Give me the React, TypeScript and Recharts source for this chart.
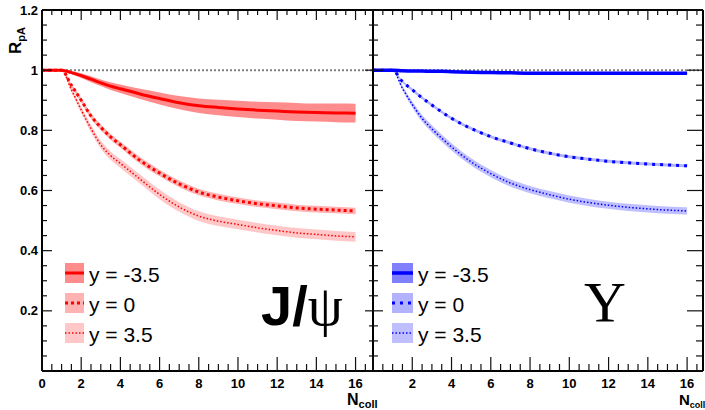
import React from 'react';
import { ComposedChart, Line, Area, XAxis, YAxis, ReferenceLine } from 'recharts';

const FONT = "'Liberation Sans', Arial, Helvetica, sans-serif";
const SERIF = "'Liberation Serif', 'DejaVu Serif', serif";

// N_coll sample points
const nColl = [0, 0.5, 1, 1.5, 2, 2.5, 3, 3.5, 4, 5, 6, 7, 8, 9, 10, 11, 12, 13, 14, 15, 16];

// J/psi R_pA
const jpsiBackward = [1, 1, 1, 0.992, 0.982, 0.970, 0.958, 0.947, 0.938, 0.921, 0.906, 0.892, 0.882, 0.876, 0.871, 0.867, 0.864, 0.861, 0.859, 0.858, 0.857];
const jpsiBackwardErr = [0, 0, 0.003, 0.005, 0.008, 0.010, 0.011, 0.013, 0.014, 0.017, 0.020, 0.022, 0.024, 0.026, 0.027, 0.028, 0.029, 0.030, 0.030, 0.031, 0.031];
const jpsiMid = [1, 1, 1, 0.950, 0.900, 0.848, 0.810, 0.778, 0.752, 0.700, 0.658, 0.622, 0.595, 0.578, 0.566, 0.556, 0.549, 0.542, 0.538, 0.535, 0.532];
const jpsiMidErr = [0, 0, 0.002, 0.006, 0.008, 0.009, 0.010, 0.010, 0.010, 0.011, 0.011, 0.011, 0.011, 0.011, 0.011, 0.011, 0.011, 0.011, 0.011, 0.011, 0.011];
const jpsiForward = [1, 1, 1, 0.935, 0.868, 0.806, 0.752, 0.716, 0.690, 0.638, 0.587, 0.545, 0.515, 0.498, 0.487, 0.476, 0.467, 0.459, 0.454, 0.449, 0.446];
const jpsiForwardErr = [0, 0, 0.003, 0.008, 0.010, 0.012, 0.013, 0.014, 0.015, 0.015, 0.016, 0.016, 0.016, 0.016, 0.016, 0.016, 0.016, 0.016, 0.016, 0.016, 0.016];

// Upsilon R_pA
const upsBackward = [1, 1, 1, 0.998, 0.997, 0.997, 0.996, 0.996, 0.995, 0.993, 0.992, 0.991, 0.990, 0.990, 0.990, 0.990, 0.990, 0.990, 0.990, 0.990, 0.990];
const upsBackwardErr = [0, 0, 0.001, 0.001, 0.001, 0.001, 0.001, 0.001, 0.001, 0.002, 0.002, 0.002, 0.002, 0.002, 0.002, 0.002, 0.002, 0.002, 0.002, 0.002, 0.002];
const upsMid = [1, 1, 1, 0.962, 0.935, 0.908, 0.884, 0.861, 0.840, 0.806, 0.779, 0.758, 0.739, 0.724, 0.712, 0.704, 0.697, 0.692, 0.688, 0.685, 0.682];
const upsMidErr = [0, 0, 0.002, 0.004, 0.005, 0.005, 0.005, 0.005, 0.005, 0.005, 0.005, 0.005, 0.005, 0.005, 0.005, 0.005, 0.005, 0.005, 0.005, 0.005, 0.005];
const upsForward = [1, 1, 1, 0.940, 0.886, 0.840, 0.805, 0.774, 0.745, 0.695, 0.656, 0.625, 0.603, 0.586, 0.571, 0.560, 0.551, 0.544, 0.539, 0.535, 0.532];
const upsForwardErr = [0, 0, 0.003, 0.007, 0.010, 0.011, 0.012, 0.012, 0.012, 0.012, 0.012, 0.012, 0.012, 0.012, 0.012, 0.012, 0.012, 0.012, 0.012, 0.012, 0.012];

// ticks
const xTickValues = [0, 0.5, 1, 1.5, 2, 2.5, 3, 3.5, 4, 4.5, 5, 5.5, 6, 6.5, 7, 7.5, 8, 8.5, 9, 9.5, 10, 10.5, 11, 11.5, 12, 12.5, 13, 13.5, 14, 14.5, 15, 15.5, 16, 16.5];
const xMajorLabels = [0, 2, 4, 6, 8, 10, 12, 14, 16];
const yTickValues = [0, 0.05, 0.1, 0.15, 0.2, 0.25, 0.3, 0.35, 0.4, 0.45, 0.5, 0.55, 0.6, 0.65, 0.7, 0.75, 0.8, 0.85, 0.9, 0.95, 1, 1.05, 1.1, 1.15, 1.2];
const yMajorLabels = ['0.2', '0.4', '0.6', '0.8', '1', '1.2'];

const legendLabels = ['y = -3.5', 'y = 0', 'y = 3.5'];

function buildRows(b: number[], be: number[], m: number[], me: number[], f: number[], fe: number[]) {
  return nColl.map((x, i) => ({
    x,
    back: b[i],
    backBand: [b[i] - be[i], b[i] + be[i]],
    mid: m[i],
    midBand: [m[i] - me[i], m[i] + me[i]],
    fwd: f[i],
    fwdBand: [f[i] - fe[i], f[i] + fe[i]],
  }));
}

const jpsiRows = buildRows(jpsiBackward, jpsiBackwardErr, jpsiMid, jpsiMidErr, jpsiForward, jpsiForwardErr);
const upsRows = buildRows(upsBackward, upsBackwardErr, upsMid, upsMidErr, upsForward, upsForwardErr);

type Style = {
  color: string;
  bandOp: [number, number, number];
  width: [number, number, number];
  dash: [string | undefined, string | undefined, string | undefined];
};

const redStyle: Style = {
  color: '#ff0000',
  bandOp: [0.45, 0.3, 0.22],
  width: [3, 3, 1.5],
  dash: [undefined, '3 3', '1.5 2'],
};
const blueStyle: Style = {
  color: '#0000ff',
  bandOp: [0.5, 0.3, 0.25],
  width: [3.5, 3, 1.5],
  dash: [undefined, '3 5', '1.5 2'],
};

const isMajor = (v: number, step: number) => Math.abs(v / step - Math.round(v / step)) < 1e-6;

type TickCfg = { major: number; minor: number };

function Panel(props: {
  rows: any[];
  style: Style;
  left: number;
  width: number;
  marginLeft: number;
  marginRight: number;
  xMax: number;
  showYLabels: boolean;
  showZero: boolean;
  leftTick: TickCfg;
  rightTick: TickCfg;
  bottomTick: TickCfg;
  topTick: TickCfg;
}) {
  const { rows, style, left, width, marginLeft, marginRight, xMax, showYLabels, showZero } = props;
  const axisLine = { stroke: '#000', strokeWidth: 2 };

  const bottomTick = (p: any) => {
    const v = p.payload.value;
    const major = isMajor(v, 2);
    const len = major ? props.bottomTick.major : props.bottomTick.minor;
    const showLabel = major && xMajorLabels.indexOf(Math.round(v)) >= 0 && (showZero || v !== 0);
    return (
      <g>
        <line x1={p.x} x2={p.x} y1={p.y} y2={p.y - len} stroke="#111" strokeWidth={1.2} />
        {showLabel && (
          <text x={p.x} y={p.y + 17} textAnchor="middle" fontSize={13} fontWeight="bold" fontFamily={FONT} fill="#000">
            {Math.round(v)}
          </text>
        )}
      </g>
    );
  };
  const topTick = (p: any) => {
    const v = p.payload.value;
    const len = isMajor(v, 2) ? props.topTick.major : props.topTick.minor;
    return <line x1={p.x} x2={p.x} y1={p.y} y2={p.y + len} stroke="#111" strokeWidth={1.2} />;
  };
  const leftTick = (p: any) => {
    const v = p.payload.value;
    const major = isMajor(v, 0.2);
    const len = major ? props.leftTick.major : props.leftTick.minor;
    const idx = Math.round(v / 0.2) - 1;
    return (
      <g>
        <line x1={p.x} x2={p.x + len} y1={p.y} y2={p.y} stroke="#111" strokeWidth={1.2} />
        {showYLabels && major && idx >= 0 && (
          <text x={p.x - 4} y={p.y + 4.5} textAnchor="end" fontSize={13} fontWeight="bold" fontFamily={FONT} fill="#000">
            {yMajorLabels[idx]}
          </text>
        )}
      </g>
    );
  };
  const rightTick = (p: any) => {
    const v = p.payload.value;
    const len = isMajor(v, 0.2) ? props.rightTick.major : props.rightTick.minor;
    return <line x1={p.x} x2={p.x - len} y1={p.y} y2={p.y} stroke="#111" strokeWidth={1.2} />;
  };

  const keys: ['back', 'mid', 'fwd'] = ['back', 'mid', 'fwd'];

  return (
    <div style={{ position: 'absolute', left, top: 0 }}>
      <ComposedChart
        width={width}
        height={410}
        data={rows}
        margin={{ top: 9, right: marginRight, bottom: 38, left: marginLeft }}
      >
        <XAxis
          dataKey="x"
          type="number"
          domain={[0, xMax]}
          ticks={xTickValues}
          interval={0}
          height={1}
          tickSize={0}
          tickMargin={0}
          tickLine={false}
          axisLine={axisLine}
          tick={bottomTick}
          allowDataOverflow
        />
        <XAxis
          xAxisId="top"
          orientation="top"
          dataKey="x"
          type="number"
          domain={[0, xMax]}
          ticks={xTickValues}
          interval={0}
          height={1}
          tickSize={0}
          tickMargin={0}
          tickLine={false}
          axisLine={axisLine}
          tick={topTick}
          allowDataOverflow
        />
        <YAxis
          type="number"
          domain={[0, 1.2]}
          ticks={yTickValues}
          interval={0}
          width={1}
          tickSize={0}
          tickMargin={0}
          tickLine={false}
          axisLine={axisLine}
          tick={leftTick}
          allowDataOverflow
        />
        <YAxis
          yAxisId="right"
          orientation="right"
          type="number"
          domain={[0, 1.2]}
          ticks={yTickValues}
          interval={0}
          width={1}
          tickSize={0}
          tickMargin={0}
          tickLine={false}
          axisLine={axisLine}
          tick={rightTick}
          allowDataOverflow
        />
        <ReferenceLine y={1} stroke="#808080" strokeDasharray="2 2" strokeWidth={2} />
        {keys.map((k, i) => (
          <Area
            key={k + 'Band'}
            type="monotone"
            dataKey={k + 'Band'}
            stroke="none"
            fill={style.color}
            fillOpacity={style.bandOp[i]}
            isAnimationActive={false}
            dot={false}
            activeDot={false}
          />
        ))}
        {keys.map((k, i) => (
          <Line
            key={k}
            type="monotone"
            dataKey={k}
            stroke={style.color}
            strokeWidth={style.width[i]}
            strokeDasharray={style.dash[i]}
            dot={false}
            activeDot={false}
            isAnimationActive={false}
          />
        ))}
      </ComposedChart>
    </div>
  );
}

function LegendBlock(props: { x: number; textX: number; w: number; style: Style }) {
  const { x, textX, w, style } = props;
  const centers = [273, 303, 333];
  return (
    <g>
      {centers.map((cy, i) => (
        <g key={i}>
          <rect x={x} y={cy - 10} width={w} height={20} fill={style.color} fillOpacity={style.bandOp[i]} />
          <line
            x1={x}
            x2={x + w}
            y1={cy}
            y2={cy}
            stroke={style.color}
            strokeWidth={style.width[i]}
            strokeDasharray={style.dash[i]}
          />
          <text x={textX} y={cy + 9} fontSize={21} fontFamily={FONT} fill="#000">
            {legendLabels[i]}
          </text>
        </g>
      ))}
    </g>
  );
}

export default function App() {
  return (
    <div style={{ position: 'absolute', left: 0, top: 0, width: 705, height: 410, background: '#fff', overflow: 'hidden' }}>
      <Panel
        rows={jpsiRows}
        style={redStyle}
        left={0}
        width={375}
        marginLeft={41}
        marginRight={1}
        xMax={16.89}
        showYLabels={true}
        showZero={true}
        leftTick={{ major: 10, minor: 5 }}
        rightTick={{ major: 8, minor: 4 }}
        bottomTick={{ major: 14, minor: 7 }}
        topTick={{ major: 10, minor: 5 }}
      />
      <Panel
        rows={upsRows}
        style={blueStyle}
        left={372}
        width={333}
        marginLeft={0}
        marginRight={1}
        xMax={16.81}
        showYLabels={false}
        showZero={false}
        leftTick={{ major: 10, minor: 5 }}
        rightTick={{ major: 16, minor: 7 }}
        bottomTick={{ major: 14, minor: 7 }}
        topTick={{ major: 10, minor: 5 }}
      />
      <svg width={705} height={410} style={{ position: 'absolute', left: 0, top: 0, pointerEvents: 'none' }}>
        <text transform="translate(21,54) rotate(-90)" fontFamily={FONT} fontWeight="bold" fontSize={17} fill="#000">
          R<tspan fontSize={11} dy={4}>pA</tspan>
        </text>
        <text x={347} y={405} fontFamily={FONT} fontWeight="bold" fontSize={16} fill="#000">
          N<tspan fontSize={11} dy={3}>coll</tspan>
        </text>
        <text x={679} y={405} fontFamily={FONT} fontWeight="bold" fontSize={15} fill="#000">
          N<tspan fontSize={9} dy={3}>coll</tspan>
        </text>
        <text x={261} y={325} fontFamily={FONT} fontWeight="bold" fontSize={56} fill="#000">
          J/<tspan fontFamily={SERIF} fontWeight="normal">ψ</tspan>
        </text>
        <text x={584} y={322} fontFamily={SERIF} fontSize={58} fill="#000">
          Υ
        </text>
        <LegendBlock x={65} textX={89} w={19} style={redStyle} />
        <LegendBlock x={392} textX={418} w={21} style={blueStyle} />
      </svg>
    </div>
  );
}
